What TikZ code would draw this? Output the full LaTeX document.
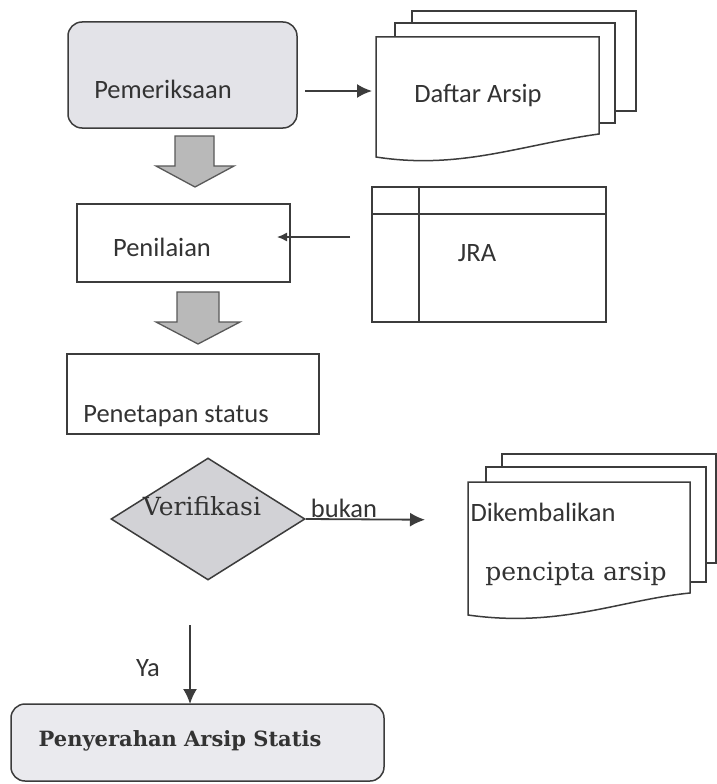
\documentclass[tikz,border=0pt]{standalone}
\usepackage{fontspec}
\usetikzlibrary{shapes.geometric,arrows.meta,calc}
\newfontfamily\calfont{Carlito}
\newfontfamily\serfont{DejaVu Serif}
\definecolor{ln}{HTML}{3C3C3C}
\definecolor{txtc}{HTML}{333333}
\definecolor{boxfill}{HTML}{E3E3E8}
\definecolor{finfill}{HTML}{EAEAEE}
\definecolor{dfill}{HTML}{D2D2D6}
\definecolor{garrow}{HTML}{B9B9B9}
\begin{document}
\begin{tikzpicture}[x=1pt,y=-1pt,
  box/.style={draw=ln, line width=1.5pt, inner sep=0pt, outer sep=0pt},
  rbox/.style={box, rounded corners=14pt},
  txt/.style={font=\calfont\fontsize{26.5}{30}\selectfont, text=txtc, inner sep=0pt},
  stxt/.style={font=\serfont\fontsize{25}{28}\selectfont, text=txtc, inner sep=0pt},
  arr/.style={draw=ln, line width=1.8pt, -{Latex[length=15pt,width=14pt]}},
  arrsmall/.style={draw=ln, line width=1.4pt, -{Latex[length=10pt,width=9pt]}},
  blockarrow/.style={draw=ln!85, fill=garrow, line width=1.3pt, line join=miter}]
\useasboundingbox (0,0) rectangle (717,784);
\clip (0,0) rectangle (717,784);
\fill[white] (0,0) rectangle (717,784);

% Pemeriksaan
\node[rbox, fill=boxfill, minimum width=229pt, minimum height=106pt] (pem) at (182.5,75) {};
\node[txt] (pemt) at (163,89) {Pemeriksaan};

% Daftar Arsip stack
\draw[box, fill=white] (412,11) rectangle (636,111);
\draw[box, fill=white] (395,23) rectangle (615,123);
\draw[box, fill=white] (376,37) -- (599,37) -- (599,134) .. controls (520,145) and (460,170) .. (376,157) -- cycle;
\node[txt] (daft) at (478,96) {Daftar Arsip};
\coordinate (dafl) at (376,91);
\draw[arr, shorten <=8pt, shorten >=4pt] (pem.east |- dafl) -- (dafl);

% block arrow 1
\draw[blockarrow] (175,136) -- (214,136) -- (214,166) -- (234,166) -- (195,187) -- (156,166) -- (175,166) -- cycle;

% Penilaian
\node[box, minimum width=213pt, minimum height=78pt] (pen) at (183.5,243) {};
\node[txt] (pent) at (162,247) {Penilaian};

% JRA
\node[box, minimum width=234pt, minimum height=135pt] (jra) at (489,254.5) {};
\draw[box] (419,187) -- (419,322);
\draw[box] (372,214) -- (606,214);
\node[txt] (jrat) at (477,253) {JRA};
\coordinate (jrain) at (350,237);
\draw[arrsmall] (jrain) -- ($(pen.east |- jrain)+(-13,0)$);

% block arrow 2
\draw[blockarrow] (177,292) -- (219,292) -- (219,322) -- (240,322) -- (198,344) -- (156,322) -- (177,322) -- cycle;

% Penetapan status
\node[box, minimum width=252pt, minimum height=80pt] (pet) at (193,394) {};
\node[txt] (pett) at (176,416) {Penetapan status};

% Verifikasi
\node[diamond, draw=ln, fill=dfill, line width=1.5pt, minimum width=194pt, minimum height=122pt, inner sep=0pt] (ver) at (208,519) {};
\node[stxt] (vert) at (202,506) {Verifikasi};

% Dikembalikan stack
\draw[box, fill=white] (502,454) rectangle (716,563);
\draw[box, fill=white] (486,467) rectangle (706,582);
\draw[box, fill=white] (468,482) -- (690,482) -- (690,593) .. controls (620,600) and (560,628) .. (468,615) -- cycle;
\node[txt] (dkt) at (543,512) {Dikembalikan};
\node[stxt] (pct) at (576,574) {pencipta arsip};
\coordinate (dkl) at (468,520);
\draw[arr, shorten >=43pt] (ver.east) -- (dkl);
\node[txt] (bukan) at (344,508) {bukan};

% Penyerahan
\node[rbox, fill=finfill, minimum width=373pt, minimum height=77pt] (fin) at (197.5,742.5) {};
\node[font=\serfont\bfseries\fontsize{21}{24}\selectfont, text=txtc, inner sep=0pt] (fint) at (180,741) {Penyerahan Arsip Statis};
\coordinate (ya0) at (190,625);
\draw[arr] (ya0) -- (ya0 |- fin.north);
\node[txt] (yat) at (148,668) {Ya};
\end{tikzpicture}
\end{document}
